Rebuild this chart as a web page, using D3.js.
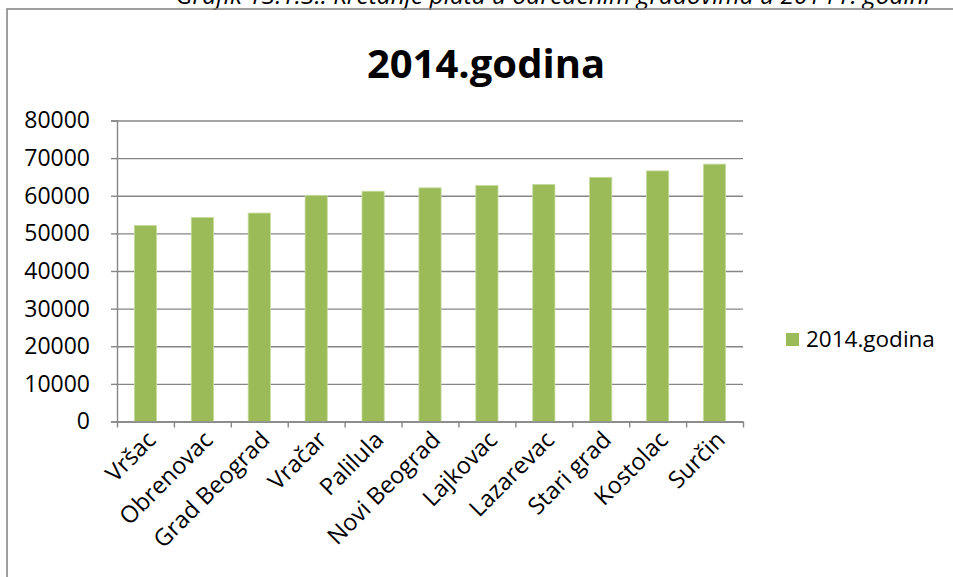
<!DOCTYPE html>
<html>
<head>
<meta charset="utf-8">
<script src="https://cdn.jsdelivr.net/npm/d3@7"></script>
<style>
  body { margin: 0; background: #fff; }
  text { font-family: "Open Sans", sans-serif; fill: #000; }
</style>
</head>
<body>
<div id="chart"></div>
<script>
const cities = ["Vršac", "Obrenovac", "Grad Beograd", "Vračar", "Palilula", "Novi Beograd",
                "Lajkovac", "Lazarevac", "Stari grad", "Kostolac", "Surčin"];
const plate = [52100, 54200, 55400, 60100, 61200, 62100, 62700, 63000, 64900, 66600, 68400];
const yTicks = [0, 10000, 20000, 30000, 40000, 50000, 60000, 70000, 80000];
const seriesName = "2014.godina";
const chartTitle = "2014.godina";
const caption = "Grafik 13.1.3.: Kretanje plata u određenim gradovima u 2014 r. godini";

let width = 953, height = 577,
    margin = ({ top: 120.5, right: 210, bottom: 155.5, left: 117 }),
    innerWidth = width - margin.left - margin.right;

const svg = d3.select("#chart")
  .append("svg")
  .attr("width", width)
  .attr("height", height);

// caption, cut off at the top of the picture like in the original
svg.append("text")
  .attr("x", 553)
  .attr("y", 4)
  .attr("text-anchor", "middle")
  .attr("font-size", 24.5)
  .attr("font-style", "italic")
  .text(caption);

// outer chart border (right and bottom edges lie outside the picture)
svg.append("rect")
  .attr("x", 7)
  .attr("y", 9)
  .attr("width", 1000)
  .attr("height", 700)
  .attr("fill", "none")
  .attr("stroke", "#888")
  .attr("stroke-width", 1.6);

svg.append("text")
  .attr("x", 486)
  .attr("y", 78)
  .attr("text-anchor", "middle")
  .attr("font-size", 40)
  .attr("font-weight", "bold")
  .text(chartTitle);

let x = d3.scaleBand()
  .domain(cities)
  .range([margin.left, width - margin.right])
  .paddingInner(0.61)
  .paddingOuter(0.305);

let y = d3.scaleLinear()
  .domain([0, 80000])
  .range([height - margin.bottom, margin.top]);

// gridlines
svg.append("g")
  .attr("class", "grid")
  .attr("transform", `translate(${margin.left},0)`)
  .call(d3.axisLeft(y).tickValues(yTicks).tickSize(-innerWidth).tickFormat(""))
  .call(g => g.select(".domain").remove())
  .call(g => g.selectAll("line").attr("stroke", "#868686").attr("stroke-width", 1.4));

// y axis with outer ticks and labels
svg.append("g")
  .attr("transform", `translate(${margin.left},0)`)
  .call(d3.axisLeft(y).tickValues(yTicks).tickSize(6).tickPadding(21).tickFormat(d => d))
  .call(g => g.select(".domain").attr("stroke", "#868686").attr("stroke-width", 1.4))
  .call(g => g.selectAll("line").attr("stroke", "#868686").attr("stroke-width", 1.4))
  .call(g => g.selectAll("text").attr("font-size", 23).attr("font-family", "Open Sans").attr("fill", "#000"));

// bars
svg.append("g")
  .selectAll("rect")
  .data(cities)
  .join("rect")
  .attr("x", d => x(d))
  .attr("width", x.bandwidth())
  .attr("y", (d, i) => y(plate[i]))
  .attr("height", (d, i) => y(0) - y(plate[i]))
  .attr("fill", "#9BBB59")
  .attr("stroke", "#c5dc9c")
  .attr("stroke-width", 0.8);

// x axis with ticks between categories
let xb = d3.scaleLinear().domain([0, cities.length]).range([margin.left, width - margin.right]);
svg.append("g")
  .attr("transform", `translate(0,${y(0)})`)
  .call(d3.axisBottom(xb).tickValues(d3.range(cities.length + 1)).tickSize(6).tickSizeOuter(0).tickFormat(""))
  .call(g => g.select(".domain").attr("stroke", "#868686").attr("stroke-width", 1.4))
  .call(g => g.selectAll("line").attr("stroke", "#868686").attr("stroke-width", 1.4));

// rotated category labels
svg.append("g")
  .attr("transform", `translate(0,${y(0)})`)
  .call(d3.axisBottom(x).tickSize(0).tickPadding(0))
  .call(g => g.select(".domain").remove())
  .call(g => g.selectAll("text")
    .attr("font-size", 23.5)
    .attr("font-family", "Open Sans")
    .attr("fill", "#000")
    .attr("text-anchor", "end")
    .attr("dy", "0.35em")
    .attr("transform", "translate(6,14) rotate(-45)"));

// legend
let legend = svg.append("g").attr("transform", "translate(786,333)");
legend.append("rect")
  .attr("width", 13).attr("height", 13)
  .attr("fill", "#9BBB59");
legend.append("text")
  .attr("x", 20)
  .attr("y", 14)
  .attr("font-size", 22.5)
  .text(seriesName);
</script>
</body>
</html>
